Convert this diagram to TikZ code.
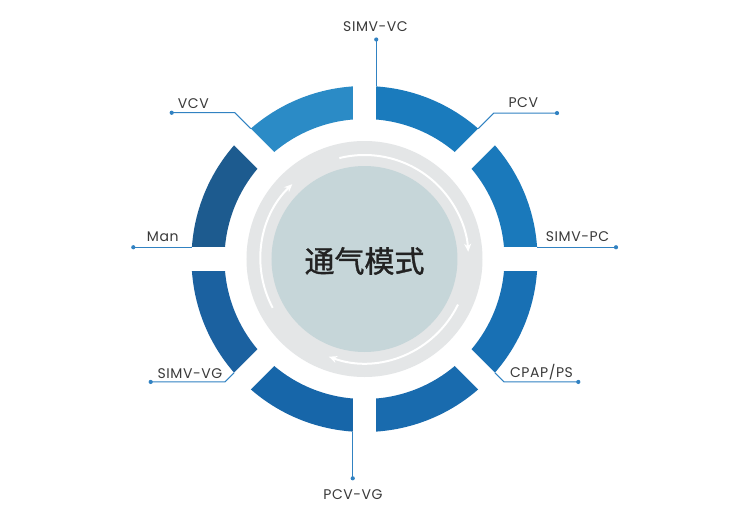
\documentclass[tikz,border=0pt]{standalone}
\usepackage{fontspec}
\setmainfont{Poppins}[LetterSpace=4]
\newfontfamily\cjk{Noto Sans CJK SC}[FakeBold=1.2]
\usetikzlibrary{arrows.meta,calc}
\definecolor{segA}{HTML}{1A7BBD}
\definecolor{segB}{HTML}{1A79BB}
\definecolor{segC}{HTML}{1870B4}
\definecolor{segD}{HTML}{196BAE}
\definecolor{segE}{HTML}{1766A9}
\definecolor{segF}{HTML}{1B61A0}
\definecolor{segG}{HTML}{1D5B8F}
\definecolor{segH}{HTML}{2B8BC6}
\definecolor{ringgray}{HTML}{E4E6E7}
\definecolor{coregray}{HTML}{C6D6D9}
\definecolor{leadblue}{HTML}{3182C2}
\definecolor{labeltext}{HTML}{3A3A3A}
\definecolor{titletext}{HTML}{222222}
\tikzset{
  lead/.style={draw=leadblue, line width=1pt},
  enddot/.style={circle, fill=leadblue, inner sep=0pt, minimum size=4.2pt},
  lbl/.style={text=labeltext, font=\fontsize{14}{16}\selectfont, anchor=base, inner sep=0pt},
  gapbar/.style={draw=white, line width=23.5pt},
  flow/.style={draw=white, line width=2pt, -{Stealth[length=8pt,width=7pt,inset=2.5pt]}}
}
\begin{document}
\begin{tikzpicture}[x=1pt,y=1pt]
\useasboundingbox (-364.5,-261) rectangle (385.5,259);
\fill[white] (-364.5,-261) rectangle (385.5,259);
% ring segments (start angle, colour)
\foreach \a/\c in {45/segA,0/segB,-45/segC,-90/segD,-135/segE,180/segF,135/segG,90/segH}{
  \fill[\c] (\a:173) arc[start angle=\a, end angle=\a+45, radius=173]
    -- ({\a+45}:140) arc[start angle=\a+45, end angle=\a, radius=140] -- cycle;
}
\foreach \t in {0,45,...,315}{
  \draw[gapbar] (\t:125) -- (\t:192);
}
% inner discs
\fill[ringgray] (0,0) circle[radius=118];
\fill[coregray] (0,0) circle[radius=93];
% flow arrows
\draw[flow] (104:104) arc[start angle=104, end angle=4, radius=104];
\draw[flow] (-26:104) arc[start angle=-26, end angle=-110, radius=104];
\draw[flow] (208:104) arc[start angle=208, end angle=134, radius=104];
\node[font=\cjk\fontsize{30}{32}\selectfont, text=titletext, inner sep=0pt] (title) at (0,-2) {通气模式};
% corners on the segments
\coordinate (cSVC) at (11.75,172.6);
\coordinate (cPCV) at ($(45:172.6)+(135:11.75)$);
\coordinate (cSPC) at (172.6,11.75);
\coordinate (cCPAP) at ($(-45:172.6)+(45:11.75)$);
\coordinate (cPVG) at (-11.75,-172.6);
\coordinate (cSVG) at ($(225:172.6)+(135:11.75)$);
\coordinate (cMan) at (-172.6,11.75);
\coordinate (cVCV) at ($(135:172.6)+(45:11.75)$);
% elbows
\coordinate (ePCV) at ($(cPCV)+(45:22)$);
\coordinate (eCPAP) at ($(cCPAP)+(-45:13)$);
\coordinate (eSVG) at ($(cSVG)+(225:13)$);
\coordinate (eVCV) at ($(cVCV)+(135:22.5)$);
% dots
\node[enddot] (dSVC) at (11.75,219.5) {};
\node[enddot] (dPCV) at (192.5,0|-ePCV) {};
\node[enddot] (dSPC) at (251.5,11.75) {};
\node[enddot] (dCPAP) at (213.8,0|-eCPAP) {};
\node[enddot] (dPVG) at (-11.75,-219.3) {};
\node[enddot] (dSVG) at (-213.8,0|-eSVG) {};
\node[enddot] (dMan) at (-231.2,11.75) {};
\node[enddot] (dVCV) at (-192.8,0|-eVCV) {};
% leads
\draw[lead] (cSVC) -- (dSVC.center);
\draw[lead] (cPCV) -- (ePCV) -- (dPCV.center);
\draw[lead] (cSPC) -- (dSPC.center);
\draw[lead] (cCPAP) -- (eCPAP) -- (dCPAP.center);
\draw[lead] (cPVG) -- (dPVG.center);
\draw[lead] (cSVG) -- (eSVG) -- (dSVG.center);
\draw[lead] (cMan) -- (dMan.center);
\draw[lead] (cVCV) -- (eVCV) -- (dVCV.center);
% labels
\node[lbl] (tSVC) at (11,227.3) {SIMV-VC};
\node[lbl] (tPCV) at (158.8,151.3) {PCV};
\node[lbl] (tSPC) at (213,18) {SIMV-PC};
\node[lbl] (tCPAP) at (177,-118) {CPAP/PS};
\node[lbl] (tPVG) at (-11.5,-240.3) {PCV-VG};
\node[lbl] (tSVG) at (-174.5,-119.3) {SIMV-VG};
\node[lbl] (tMan) at (-201.7,17.3) {Man};
\node[lbl] (tVCV) at (-171.2,150) {VCV};
\end{tikzpicture}
\end{document}
